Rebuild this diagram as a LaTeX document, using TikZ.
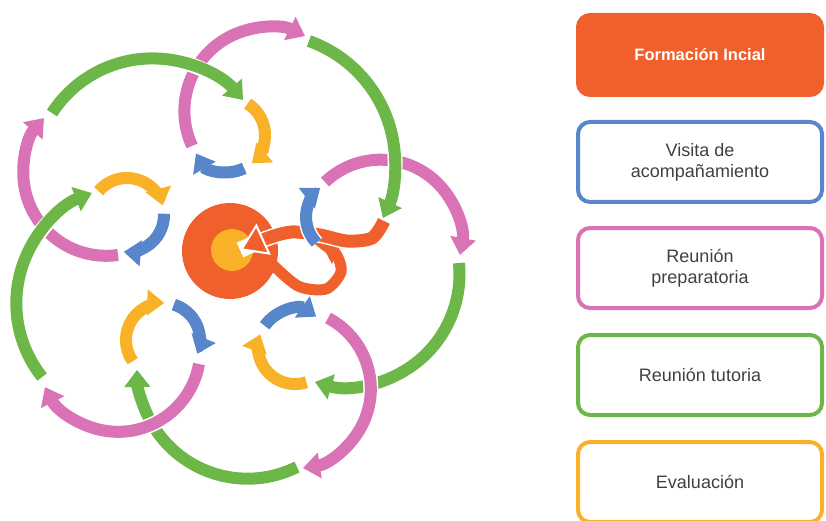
\documentclass[tikz,border=0pt]{standalone}
\usepackage{fontspec}
\setmainfont{Liberation Sans}
\usepackage{tkz-euclide, tikz, xcolor}
\usetikzlibrary{arrows.meta, calc}
\definecolor{rosa}{RGB}{217,115,182}
\definecolor{verde}{RGB}{108,183,72}
\definecolor{azul}{RGB}{88,134,202}
\definecolor{amarillo}{RGB}{249,178,40}
\definecolor{naranja}{RGB}{240,96,44}
\definecolor{texto}{RGB}{64,64,64}
\tikzset{flecha/.style = {line width = 12pt, -{Triangle[width=25pt, length=17pt]}, preaction = {draw = white, line width = 15pt, -}}}
\tikzset{caja/.style = {draw, line width = 4pt, rounded corners = 12pt, minimum width = 244pt, minimum height = 80pt, align = center, text = texto, font = \fontsize{18}{21}\selectfont}}

\begin{document}
\begin{tikzpicture}[x = 1pt, y = -1pt]
\useasboundingbox (0,0) rectangle (826,521);
\tkzDefPoints{230/251/O, 228/135/A, 343/217/B, 295/347/C, 163/340/D, 127/215/E}
\foreach \cx/\cy/\rad/\a/\b/\col in {346.9/274/112.6/-5.6/106.5/verde, 247.5/368.2/110.5/63.4/179.1/verde,
  268/111/83.6/155.3/296.3/rosa, 380.7/240.3/80.6/226.3/370.5/rosa, 290.7/388.9/80.1/-62.2/81.2/rosa,
  118.1/349.6/82.2/10.1/152.9/rosa, 106.2/172.9/82.9/81.8/221.4/rosa,
  265.4/163.2/129.7/289.6/385/verde, 134.5/303.3/118.2/141.4/248.9/verde, 152.4/178/119.6/212.9/319.3/verde}
  \draw [flecha, \col] ($(\cx,\cy)+(\a:\rad)$) arc [start angle = \a, end angle = \b, radius = \rad];
\draw [flecha, naranja, line width = 11pt] plot [smooth] coordinates {(270,262) (298,286) (326,289) (341,272) (336,254) (322,245)};
\fill [naranja] (O) circle [radius = 48];
\fill [amarillo] ($(O)+(2,-1)$) circle [radius = 21];
\draw [naranja, line width = 13pt, -{Triangle[width=34pt, length=26pt, line width=2pt, fill=naranja, color=white]}, preaction = {draw = white, line width = 16pt, -}] plot [smooth] coordinates {(384,221) (372,238) (347,241) (320,235) (292,232) (268,238) (240,250)};
\foreach \c/\a/\b/\col in {A/-58/50/amarillo, A/64/150/azul, B/136/232/azul, C/72/200/amarillo, C/215/305/azul, D/145/272/amarillo, D/-73/22/azul, E/220/345/amarillo, E/-2/95/azul}
  \draw [flecha, \col] ($(\c)+(\a:37)$) arc [start angle = \a, end angle = \b, radius = 37];
\node [caja, draw = naranja, fill = naranja, minimum height = 80pt, text = white, font = \bfseries\fontsize{16.5}{20}\selectfont] (formacion) at (700,55) {Formación Incial};
\node [caja, draw = azul] (visita) at (700,162) {Visita de\\acompañamiento};
\node [caja, draw = rosa] (preparatoria) at (700,268) {Reunión\\preparatoria};
\node [caja, draw = verde] (tutoria) at (700,375) {Reunión tutoria};
\node [caja, draw = amarillo] (evaluacion) at (700,482) {Evaluación};
\end{tikzpicture}
\end{document}
